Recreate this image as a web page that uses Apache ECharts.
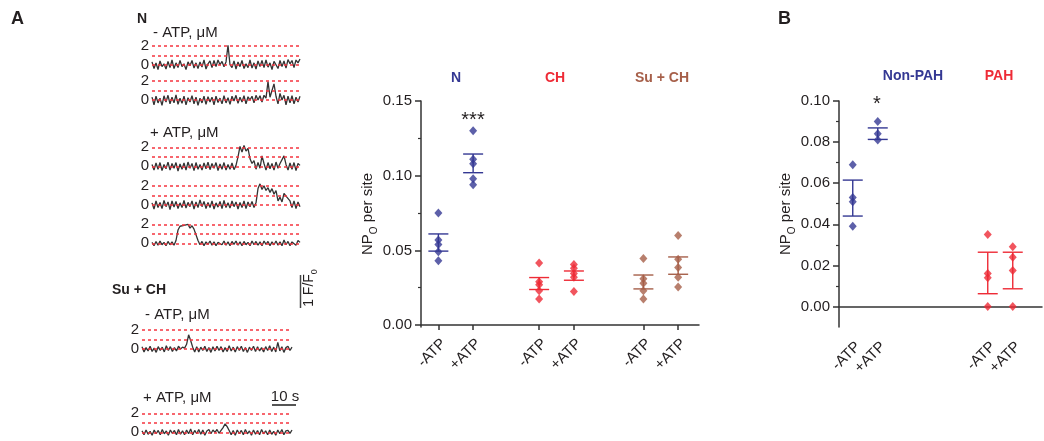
<!doctype html>
<html lang="en">
  <head>
    <meta charset="UTF-8" />
    <title>NPo per site</title>
    <style>
      html, body { margin: 0; padding: 0; background: #fff; }
      #chart { width: 1044px; height: 441px; }
    </style>
  </head>
  <body>
    <div id="chart"></div>
    <script src="https://cdn.jsdelivr.net/npm/echarts@6.0.0/dist/echarts.min.js"></script>
    <script>
      // ---- panel A, scatter (NPo per site) ----
      const catPosA = [0.5, 1.5, 3.4, 4.4, 6.4, 7.4];
      const catLabelsA = ["-ATP", "+ATP", "-ATP", "+ATP", "-ATP", "+ATP"];
      const nMinusATP = [0.075, 0.057, 0.054, 0.049, 0.043];
      const nPlusATP = [0.13, 0.111, 0.108, 0.098, 0.094];
      const chMinusATP = [0.0415, 0.029, 0.027, 0.023, 0.0175];
      const chPlusATP = [0.0405, 0.038, 0.0345, 0.032, 0.0225];
      const suMinusATP = [0.0445, 0.031, 0.028, 0.023, 0.0175];
      const suPlusATP = [0.06, 0.044, 0.0385, 0.032, 0.0255];
      const errLowA = [0.0495, 0.102, 0.0238, 0.03, 0.0242, 0.034];
      const errHighA = [0.061, 0.1145, 0.0318, 0.0362, 0.0335, 0.0456];
      const yTicksA = [0, 0.05, 0.1, 0.15];
      const yMinorA = [0.025, 0.075, 0.125];

      // ---- panel B ----
      const catPosB = [0.55, 1.55, 5.95, 6.95];
      const catLabelsB = ["-ATP", "+ATP", "-ATP", "+ATP"];
      const nonPahMinusATP = [0.069, 0.053, 0.051, 0.039];
      const nonPahPlusATP = [0.09, 0.084, 0.081];
      const pahMinusATP = [0.035, 0.016, 0.014, 0.0];
      const pahPlusATP = [0.029, 0.024, 0.0175, 0.0];
      const errLowB = [0.044, 0.0813, 0.0062, 0.0086];
      const errHighB = [0.0615, 0.0869, 0.0264, 0.0264];
      const yTicksB = [0, 0.02, 0.04, 0.06, 0.08, 0.1];
      const yMinorB = [0.01, 0.03, 0.05, 0.07, 0.09];

      // ---- fluorescence traces (F/F0) ----
      const traceN1 = [0.3,-0.4,0.2,-0.5,0.4,-0.2,0.1,-0.45,0.35,-0.3,0.5,-0.4,0.2,-0.3,0.45,-0.2,0.1,-0.5,0.3,-0.1,0.45,-0.35,0.2,-0.4,0.3,-0.25,0.5,-0.45,0.1,0.4,-0.3,0.45,-0.2,0.5,0.0,0.35,-0.2,0.3,2.05,0.0,-0.3,0.4,-0.45,0.3,-0.2,0.45,-0.4,0.1,-0.3,0.5,-0.35,0.2,-0.45,0.4,-0.2,0.45,-0.3,0.5,-0.25,0.2,-0.5,0.35,0.0,-0.4,0.45,-0.2,0.4,-0.35,0.55,0.1,0.45,-0.3,0.5,0.2,0.6];
      const traceN2 = [0.3,-0.5,0.4,-0.3,0.2,-0.55,0.45,-0.2,0.5,-0.4,0.3,-0.3,0.55,-0.45,0.2,-0.35,0.4,-0.5,0.25,-0.2,0.45,-0.4,0.3,-0.55,0.2,-0.3,0.4,-0.45,0.35,-0.2,0.3,-0.5,0.4,-0.25,0.2,-0.4,0.45,-0.3,0.25,-0.45,0.4,-0.1,0.5,-0.35,0.3,-0.2,0.45,-0.4,0.35,0.0,0.4,-0.3,0.5,0.0,0.45,-0.2,0.5,0.2,1.95,0.3,1.0,1.7,0.4,-0.4,0.7,0.0,0.5,-0.5,0.4,-0.3,0.45,-0.4,0.3,-0.2,0.4];
      const traceN3 = [0.2,-0.4,0.35,-0.3,0.4,-0.45,0.2,-0.25,0.45,-0.4,0.3,-0.2,0.4,-0.5,0.25,-0.3,0.35,-0.4,0.45,-0.2,0.3,-0.45,0.4,-0.3,0.2,-0.4,0.35,-0.25,0.45,-0.35,0.3,-0.2,0.4,-0.45,0.25,-0.3,0.4,-0.4,0.2,-0.3,0.35,-0.35,0.1,1.0,2.1,1.5,2.2,1.6,1.9,0.8,0.3,0.6,-0.3,0.4,-0.2,1.1,0.3,-0.4,0.4,-0.25,0.3,-0.4,0.45,-0.2,0.3,0.4,1.1,0.2,-0.4,0.35,-0.3,0.4,-0.45,0.3,0.1];
      const traceN4 = [0.2,-0.45,0.4,-0.3,0.25,-0.4,0.45,-0.2,0.3,-0.5,0.4,-0.25,0.35,-0.4,0.2,-0.3,0.45,-0.35,0.25,-0.2,0.4,-0.45,0.3,-0.3,0.5,-0.2,0.35,-0.4,0.25,-0.3,0.4,-0.45,0.2,-0.25,0.35,-0.4,0.45,-0.3,0.2,-0.35,0.4,-0.2,0.3,-0.45,0.25,-0.3,0.4,-0.4,0.3,-0.2,0.35,-0.3,0.2,1.7,2.2,1.6,2.0,1.5,1.8,1.3,1.7,1.1,1.5,0.4,0.8,0.3,1.2,0.9,1.1,0.4,-0.3,0.4,-0.4,0.3,-0.2];
      const traceN5 = [0.1,-0.25,0.2,-0.2,0.25,-0.15,0.1,-0.25,0.2,-0.15,0.15,-0.2,0.3,1.4,1.8,1.6,1.9,1.7,2.0,1.6,1.85,1.5,1.7,0.3,-0.15,0.2,-0.25,0.15,-0.1,0.25,-0.2,0.15,-0.25,0.1,0.2,-0.15,0.25,-0.2,0.15,-0.25,0.2,-0.1,0.25,-0.2,0.15,-0.25,0.2,-0.15,0.1,-0.25,0.25,-0.15,0.2,-0.2,0.15,-0.25,0.25,-0.1,0.2,-0.25,0.15,-0.15,0.25,-0.2,0.15,-0.25,0.35,-0.15,0.2,-0.25,0.15,0.25,-0.2,0.3,0.1];
      const traceSu1 = [0.25,-0.3,0.15,-0.2,0.3,-0.25,0.1,-0.35,0.25,-0.15,0.2,-0.3,0.35,-0.15,0.25,-0.25,0.15,-0.2,0.3,0.0,0.2,0.1,0.5,1.5,0.9,0.2,-0.3,0.25,-0.3,0.2,-0.15,0.3,-0.25,0.15,-0.35,0.25,-0.2,0.3,-0.15,0.25,-0.3,0.15,-0.25,0.35,-0.2,0.2,-0.3,0.25,-0.15,0.3,-0.25,0.15,-0.35,0.2,-0.15,0.3,-0.25,0.25,-0.2,0.15,-0.3,0.25,-0.15,0.35,-0.25,0.2,-0.3,0.7,-0.2,0.25,-0.35,0.15,0.3,-0.15,0.2];
      const traceSu2 = [0.15,-0.25,0.25,-0.2,0.1,-0.3,0.25,-0.15,0.2,-0.25,0.3,-0.15,0.15,-0.3,0.25,-0.1,0.2,-0.25,0.3,-0.2,0.15,-0.25,0.25,-0.15,0.35,-0.25,0.2,-0.15,0.3,-0.2,0.25,-0.3,0.15,0.3,-0.15,0.25,0.0,0.3,-0.1,0.2,0.5,0.9,0.6,0.2,-0.25,0.2,-0.3,0.25,-0.15,0.2,-0.25,0.3,-0.15,0.15,-0.3,0.25,-0.2,0.2,-0.25,0.3,-0.15,0.15,-0.25,0.25,-0.2,0.1,-0.3,0.25,-0.15,0.3,-0.25,0.15,0.2,-0.1,0.25];
      const levels = [0, 1, 2];

      const BLUE = "#343893";
      const RED = "#ee2b36";
      const BROWN = "#a65f49";
      const INK = "#231f20";
      const DOT_RED = "#f5343f";
      const FONT = "Liberation Sans, Arial, sans-serif";

      const groupsA = [nMinusATP, nPlusATP, chMinusATP, chPlusATP, suMinusATP, suPlusATP];
      const colorsA = [BLUE, BLUE, RED, RED, BROWN, BROWN];
      const groupsB = [nonPahMinusATP, nonPahPlusATP, pahMinusATP, pahPlusATP];
      const colorsB = [BLUE, BLUE, RED, RED];

      // trace boxes (top = level 2 minus half a unit)
      const traces = [
        { data: traceN1, left: 152, top: 41 },
        { data: traceN2, left: 152, top: 76.3 },
        { data: traceN3, left: 152, top: 142.6 },
        { data: traceN4, left: 152, top: 181 },
        { data: traceN5, left: 152, top: 219.6 },
        { data: traceSu1, left: 142, top: 325.3, width: 150 },
        { data: traceSu2, left: 142, top: 408.6, width: 150 },
      ];

      const chart = echarts.init(document.getElementById("chart"), null, { renderer: "canvas" });

      const grids = [
        { left: 421, top: 101, width: 278, height: 226, outerBoundsMode: "none" },
        { left: 839, top: 101, width: 203, height: 226, outerBoundsMode: "none" },
      ];
      const xAxes = [];
      const yAxes = [];
      const series = [];

      const axisLine = { show: true, lineStyle: { color: "#333", width: 1.5 } };
      const tickLabel = { color: INK, fontSize: 15, fontFamily: FONT };
      const nameRich = {
        a: { fontSize: 15, fontFamily: FONT, color: INK, lineHeight: 22 },
        s: { fontSize: 10, fontFamily: FONT, color: INK, lineHeight: 10, verticalAlign: "bottom" },
      };

      // scatter A axes
      xAxes.push({
        type: "value", gridIndex: 0, min: 0, max: 8,
        axisLine, splitLine: { show: false },
        axisTick: { customValues: catPosA, length: 5, lineStyle: { color: "#333", width: 1.5 } },
        axisLabel: Object.assign({}, tickLabel, {
          customValues: catPosA, rotate: 45, margin: 9, verticalAlign: "top",
          formatter: (v) => catLabelsA[catPosA.indexOf(v)] || "",
        }),
      });
      yAxes.push({
        type: "value", gridIndex: 0, position: "left", min: -0.0013, max: 0.15,
        axisLine, splitLine: { show: false },
        axisTick: { customValues: yTicksA, length: 6, lineStyle: { color: "#333", width: 1.5 } },
        axisLabel: Object.assign({}, tickLabel, { customValues: yTicksA, margin: 9, formatter: (v) => v.toFixed(2) }),
        name: "{a|NP}{s|O}{a| per site}", nameLocation: "middle", nameGap: 39,
        nameTextStyle: { rich: nameRich },
      });
      yAxes.push({
        type: "value", gridIndex: 0, position: "left", offset: 0, min: -0.0013, max: 0.15,
        axisLine: { show: false }, splitLine: { show: false }, axisLabel: { show: false },
        axisTick: { customValues: yMinorA, length: 3, lineStyle: { color: "#333", width: 1.2 } },
      });

      // scatter B axes
      xAxes.push({
        type: "value", gridIndex: 1, min: 0, max: 8.12,
        axisLine, splitLine: { show: false }, axisTick: { show: false },
        axisLabel: Object.assign({}, tickLabel, {
          customValues: catPosB, rotate: 45, margin: 12, verticalAlign: "top",
          formatter: (v) => catLabelsB[catPosB.indexOf(v)] || "",
        }),
      });
      yAxes.push({
        type: "value", gridIndex: 1, position: "left", min: -0.01, max: 0.1,
        axisLine, splitLine: { show: false },
        axisTick: { customValues: yTicksB, length: 6, lineStyle: { color: "#333", width: 1.5 } },
        axisLabel: Object.assign({}, tickLabel, { customValues: yTicksB, margin: 9, formatter: (v) => v.toFixed(2) }),
        name: "{a|NP}{s|O}{a| per site}", nameLocation: "middle", nameGap: 39,
        nameTextStyle: { rich: nameRich },
      });
      yAxes.push({
        type: "value", gridIndex: 1, position: "left", offset: 0, min: -0.01, max: 0.1,
        axisLine: { show: false }, splitLine: { show: false }, axisLabel: { show: false },
        axisTick: { customValues: yMinorB, length: 3, lineStyle: { color: "#333", width: 1.2 } },
      });

      // points
      groupsA.forEach((vals, i) => {
        series.push({
          type: "scatter", xAxisIndex: 0, yAxisIndex: 0, symbol: "diamond", symbolSize: [8, 9],
          itemStyle: { color: colorsA[i] }, data: vals.map((v) => [catPosA[i], v]), z: 3,
        });
      });
      groupsB.forEach((vals, i) => {
        series.push({
          type: "scatter", xAxisIndex: 1, yAxisIndex: 2, symbol: "diamond", symbolSize: [8, 9],
          itemStyle: { color: colorsB[i] }, data: vals.map((v) => [catPosB[i], v]), z: 3,
        });
      });

      // mean +/- SEM bars
      function errorBar(colors) {
        return function (params, api) {
          const x = api.value(0);
          const lo = api.coord([x, api.value(1)]);
          const hi = api.coord([x, api.value(2)]);
          const half = 10;
          const style = { stroke: colors[params.dataIndex], lineWidth: 1.4 };
          return {
            type: "group",
            children: [
              { type: "line", shape: { x1: lo[0], y1: lo[1], x2: hi[0], y2: hi[1] }, style },
              { type: "line", shape: { x1: lo[0] - half, y1: lo[1], x2: lo[0] + half, y2: lo[1] }, style },
              { type: "line", shape: { x1: hi[0] - half, y1: hi[1], x2: hi[0] + half, y2: hi[1] }, style },
            ],
          };
        };
      }
      series.push({
        type: "custom", xAxisIndex: 0, yAxisIndex: 0, z: 2,
        renderItem: errorBar(colorsA),
        data: catPosA.map((x, i) => [x, errLowA[i], errHighA[i]]),
      });
      series.push({
        type: "custom", xAxisIndex: 1, yAxisIndex: 2, z: 2,
        renderItem: errorBar(colorsB),
        data: catPosB.map((x, i) => [x, errLowB[i], errHighB[i]]),
      });

      // traces with dotted 0/1/2 level lines
      traces.forEach((t) => {
        const gi = grids.length;
        grids.push({ left: t.left, top: t.top, width: t.width || 148, height: 33.25, outerBoundsMode: "none" });
        const xi = xAxes.length;
        xAxes.push({
          type: "category", gridIndex: gi, boundaryGap: false, show: false,
          data: t.data.map((_, j) => j),
        });
        const yi = yAxes.length;
        yAxes.push({
          type: "value", gridIndex: gi, min: -1, max: 2.5, interval: 1,
          axisLine: { show: false }, axisTick: { show: false }, splitLine: { show: false },
          axisLabel: Object.assign({}, tickLabel, {
            margin: 3, formatter: (v) => (v === 0 || v === 2 ? String(v) : ""),
          }),
        });
        series.push({
          type: "line", xAxisIndex: xi, yAxisIndex: yi, data: t.data,
          showSymbol: false, symbol: "none", z: 3,
          lineStyle: { color: "#333", width: 1.3 },
          markLine: {
            silent: true, symbol: ["none", "none"], label: { show: false },
            lineStyle: { color: DOT_RED, type: [3, 3], width: 1.5, opacity: 1 },
            emphasis: { disabled: true },
            data: levels.map((l) => ({ yAxis: l, lineStyle: { color: DOT_RED } })),
          },
        });
      });

      function txt(x, y, text, o) {
        o = o || {};
        return {
          type: "text", x, y, rotation: o.rotation || 0, silent: true,
          style: {
            text, fill: o.color || INK, fontSize: o.size || 15, fontWeight: o.bold ? "bold" : "normal",
            fontFamily: FONT, align: o.align || "left", verticalAlign: "middle", rich: o.rich,
          },
        };
      }

      const graphic = [
        txt(11, 19, "A", { bold: true, size: 18 }),
        txt(778, 19, "B", { bold: true, size: 18 }),
        txt(137, 19, "N", { bold: true, size: 14 }),
        txt(153, 33, "- ATP, μM"),
        txt(150, 133, "+ ATP, μM"),
        txt(112, 290, "Su + CH", { bold: true, size: 14 }),
        txt(145, 315, "- ATP, μM"),
        txt(143, 398, "+ ATP, μM"),
        txt(285, 397, "10 s", { align: "center" }),
        {
          type: "line", silent: true, shape: { x1: 272, y1: 405, x2: 296, y2: 405 },
          style: { stroke: "#555", lineWidth: 2 },
        },
        {
          type: "line", silent: true, shape: { x1: 300.5, y1: 275, x2: 300.5, y2: 308 },
          style: { stroke: "#444", lineWidth: 1.5 },
        },
        txt(309, 288, "{a|1 F/F}{s|0}", {
          align: "center", rotation: Math.PI / 2,
          rich: {
            a: { fontSize: 14, fontFamily: FONT, fill: INK, lineHeight: 20 },
            s: { fontSize: 9, fontFamily: FONT, fill: INK, lineHeight: 9, verticalAlign: "bottom" },
          },
        }),
        txt(456, 78, "N", { bold: true, size: 14, color: BLUE, align: "center" }),
        txt(555, 78, "CH", { bold: true, size: 14, color: RED, align: "center" }),
        txt(662, 78, "Su + CH", { bold: true, size: 14, color: BROWN, align: "center" }),
        txt(473, 120, "***", { size: 20, align: "center" }),
        txt(913, 76, "Non-PAH", { bold: true, size: 14, color: BLUE, align: "center" }),
        txt(999, 76, "PAH", { bold: true, size: 14, color: RED, align: "center" }),
        txt(877, 104, "*", { size: 20, align: "center" }),
      ];

      chart.setOption({
        animation: false,
        grid: grids,
        xAxis: xAxes,
        yAxis: yAxes,
        series,
        graphic,
      });
    </script>
  </body>
</html>
